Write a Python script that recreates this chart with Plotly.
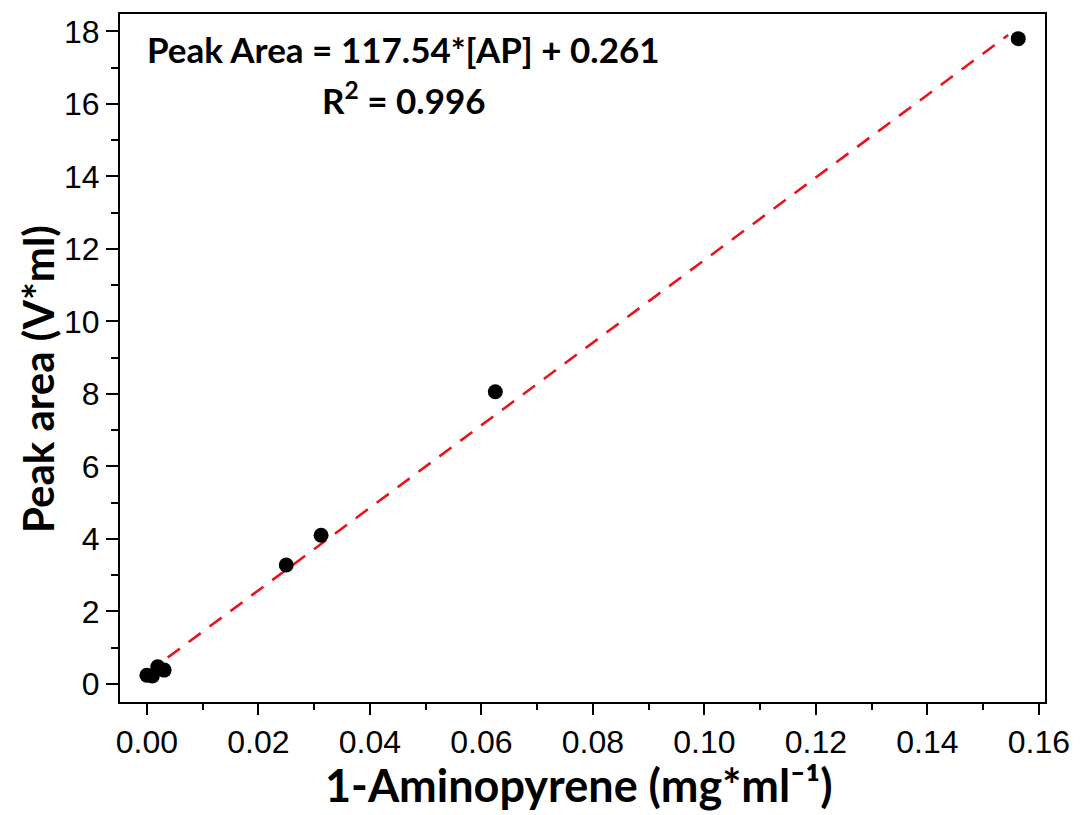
import plotly.graph_objects as go

# Data
conc = [0.0, 0.00098, 0.00195, 0.0031, 0.025, 0.03125, 0.0625, 0.1563]
peak_area = [0.24, 0.22, 0.47, 0.38, 3.28, 4.10, 8.06, 17.80]

fit_x = [0.0, 0.1545]
fit_y = [0.30, 17.90]

x_ticks = [0.00, 0.02, 0.04, 0.06, 0.08, 0.10, 0.12, 0.14, 0.16]
x_tick_text = ["0.00", "0.02", "0.04", "0.06", "0.08", "0.10", "0.12", "0.14", "0.16"]
y_ticks = [0, 2, 4, 6, 8, 10, 12, 14, 16, 18]

fig = go.Figure()
fig.add_trace(go.Scatter(
    x=fit_x, y=fit_y, mode="lines",
    line=dict(color="#e8141c", width=2.6, dash="15px,11px"),
    showlegend=False, hoverinfo="skip"))
fig.add_trace(go.Scatter(
    x=conc, y=peak_area, mode="markers",
    marker=dict(color="black", size=15),
    showlegend=False))

tick_font = dict(family="Liberation Sans, Arial, sans-serif", size=32, color="black")
bold_font = "Lato, Open Sans, sans-serif"
fig.update_layout(
    width=1082, height=815,
    margin=dict(l=120, r=33, t=13, b=113),
    paper_bgcolor="white", plot_bgcolor="white",
    xaxis=dict(
        range=[-0.00482, 0.1611],
        tickvals=x_ticks, ticktext=x_tick_text,
        ticks="outside", ticklen=11, tickwidth=2, tickcolor="black",
        minor=dict(dtick=0.01, tick0=0, ticks="outside", ticklen=6, tickwidth=1.5, tickcolor="black"),
        showline=True, linecolor="black", linewidth=2, mirror=True,
        showgrid=False, zeroline=False,
        tickfont=tick_font,
    ),
    yaxis=dict(
        range=[-0.5, 18.48],
        tickvals=y_ticks,
        ticks="outside", ticklen=12, tickwidth=2, tickcolor="black",
        minor=dict(dtick=1, tick0=0, ticks="outside", ticklen=7, tickwidth=1.5, tickcolor="black"),
        showline=True, linecolor="black", linewidth=2, mirror=True,
        showgrid=False, zeroline=False,
        tickfont=tick_font,
    ),
    annotations=[
        dict(text="Peak Area = 117.54*[AP] + 0.261", xref="paper", yref="paper",
             x=0.306, y=0.949, xanchor="center", yanchor="middle", showarrow=False,
             font=dict(family=bold_font, size=35, color="black", weight="bold")),
        dict(text="R<sup>2</sup> = 0.996", xref="paper", yref="paper",
             x=0.307, y=0.878, xanchor="center", yanchor="middle", showarrow=False,
             font=dict(family=bold_font, size=35, color="black", weight="bold")),
        dict(text="1-Aminopyrene (mg*ml⁻¹)", xref="paper", yref="paper",
             x=0.496, y=-0.121, xanchor="center", yanchor="middle", showarrow=False,
             borderpad=0,
             font=dict(family=bold_font, size=45, color="black", weight="bold")),
        dict(text="Peak area (V*ml)", xref="paper", yref="paper",
             x=-0.088, y=0.469, xanchor="center", yanchor="middle", showarrow=False,
             textangle=-90,
             font=dict(family=bold_font, size=42, color="black", weight="bold")),
    ],
)

fig.write_html("out.html")
